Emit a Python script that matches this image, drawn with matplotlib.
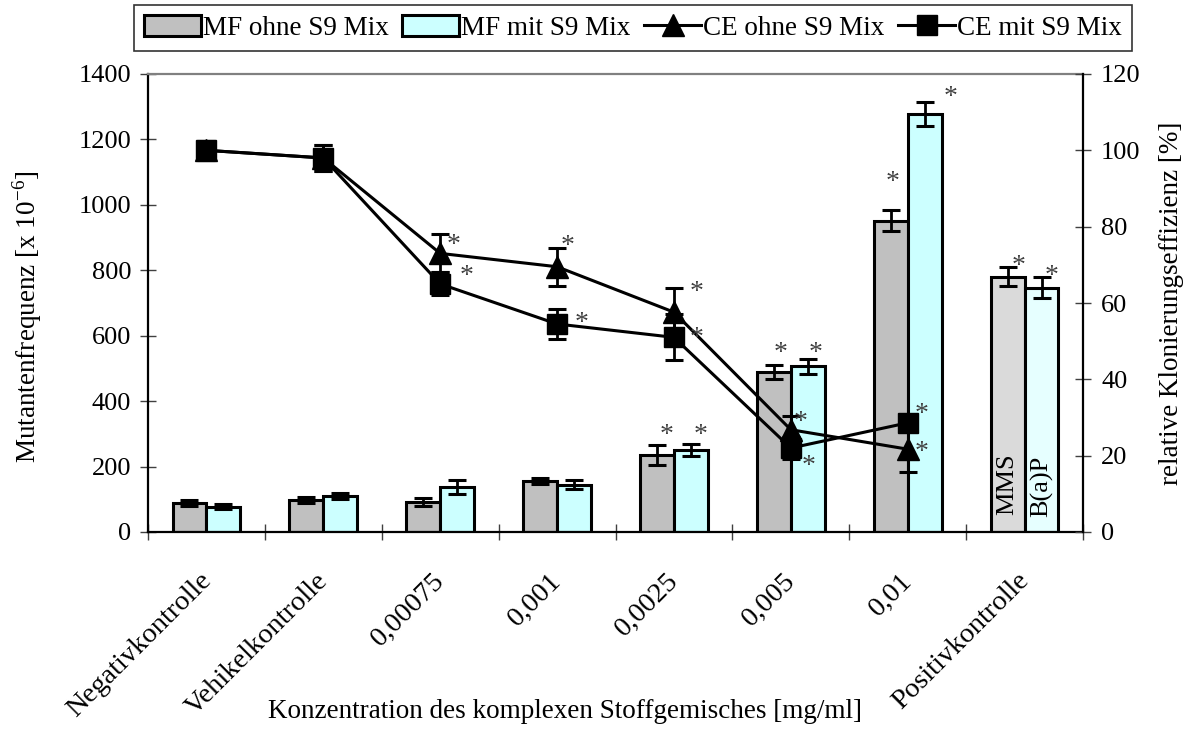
import matplotlib
matplotlib.use("Agg")
import matplotlib.pyplot as plt
from matplotlib.lines import Line2D
from matplotlib.patches import Patch
from matplotlib.transforms import ScaledTranslation

plt.rcParams['font.family'] = ['Liberation Serif', 'DejaVu Serif']

# ---- data ----
categories = ["Negativkontrolle", "Vehikelkontrolle", "0,00075", "0,001",
              "0,0025", "0,005", "0,01", "Positivkontrolle"]
mf_ohne = [88, 98, 91, 156, 236, 488, 951, 781]
mf_ohne_err = [10, 8, 13, 10, 31, 21, 32, 30]
mf_mit = [77, 111, 137, 145, 251, 506, 1278, 747]
mf_mit_err = [8, 9, 21, 15, 19, 22, 37, 31]

ce_ohne = [100, 98, 73, 69.5, 57.6, 26.8, 21.7]
ce_ohne_err = [2.5, 3.5, 5, 5, 6.2, 3.7, 6]
ce_mit = [100, 98, 65, 54.5, 51, 22, 28.6]
ce_mit_err = [2.5, 3.5, 3, 4, 6, 3, 2]

pos_labels = ["MMS", "B(a)P"]

# significance marks: (index, dx px, dy px) relative to the mark
sig_mf_ohne = [(4, 10, 15), (5, 7, 17), (6, 2, 33), (7, 11, 6)]
sig_mf_mit = [(4, 10, 14), (5, 8, 11), (6, 26, 10), (7, 10, 6)]
sig_ce_ohne = [(2, 13, 13), (3, 11, 26), (4, 23, 25), (5, 10, 13), (6, 14, 2)]
sig_ce_mit = [(2, 26, 13), (3, 25, 6), (4, 23, 4), (5, 18, -13), (6, 14, 14)]

FS_TICK = 19
FS_XTICK = 20.5
FS_LAB = 19.5
gray = "#c0c0c0"
cyan = "#ccffff"

fig = plt.figure(figsize=(11.92, 7.33), dpi=100)
ax = fig.add_axes([148 / 1192, 1 - 532 / 733, (1083 - 148) / 1192, (532 - 74) / 733])

w = 0.29
n = len(categories)
x = list(range(n))
gray_cols = [gray] * (n - 1) + ["#dadada"]
cyan_cols = [cyan] * (n - 1) + ["#e6ffff"]

ax.bar([i - w / 2 for i in x], mf_ohne, width=w, color=gray_cols,
       edgecolor="black", linewidth=2.2, zorder=2)
ax.bar([i + w / 2 for i in x], mf_mit, width=w, color=cyan_cols,
       edgecolor="black", linewidth=2.2, zorder=2)
ax.errorbar([i - w / 2 for i in x], mf_ohne, yerr=mf_ohne_err, fmt="none",
            ecolor="black", elinewidth=2, capsize=6.5, capthick=2.2, zorder=3)
ax.errorbar([i + w / 2 for i in x], mf_mit, yerr=mf_mit_err, fmt="none",
            ecolor="black", elinewidth=2, capsize=6.5, capthick=2.2, zorder=3)

ax.set_xlim(-0.5, n - 0.5)
ax.set_ylim(0, 1400)
ax.set_yticks(range(0, 1401, 200))
ax.set_xticks(x)
ax.set_xticks([i + 0.5 for i in range(-1, n)], minor=True)
ax.tick_params(axis="x", which="major", length=0, pad=26)
ax.tick_params(axis="x", which="minor", direction="inout", length=12,
               width=1.0, color="#404040")
ax.tick_params(axis="y", direction="inout", length=12, width=1.0,
               labelsize=FS_TICK, pad=6, color="#404040")
ax.set_xticklabels(categories, rotation=45, ha="right", va="top",
                   rotation_mode="anchor", fontsize=FS_XTICK)
shift = ScaledTranslation(-8 / 100, 0, fig.dpi_scale_trans)
for lbl in ax.get_xticklabels():
    lbl.set_transform(lbl.get_transform() + shift)

for s in ["left", "bottom"]:
    ax.spines[s].set_linewidth(1.6)
    ax.spines[s].set_color("black")
ax.spines["top"].set_color("#808080")
ax.spines["top"].set_linewidth(1.6)
ax.spines["right"].set_visible(False)

ax.set_ylabel("Mutantenfrequenz [x 10$^{\\mathregular{-6}}$]", fontsize=FS_LAB,
              va="center", ha="center")
ax.yaxis.set_label_coords((27 - 148) / 935, (532 - 317) / 458)
ax.set_xlabel("Konzentration des komplexen Stoffgemisches [mg/ml]", fontsize=FS_LAB,
              va="center", ha="center")
ax.xaxis.set_label_coords((565 - 148) / 935, (532 - 712) / 458)

# labels inside the positive control bars
ax.annotate(pos_labels[0], xy=(n - 1 - w / 2, 0), xytext=(0, 17),
            textcoords="offset pixels", rotation=90, ha="center", va="bottom",
            fontsize=19)
ax.annotate(pos_labels[1], xy=(n - 1 + w / 2, 0), xytext=(0, 15),
            textcoords="offset pixels", rotation=90, ha="center", va="bottom",
            fontsize=19)

# ---- clone efficiency on secondary axis ----
ax2 = ax.twinx()
ax2.set_ylim(0, 120)
ax2.set_yticks(range(0, 121, 20))
ax2.tick_params(axis="y", direction="inout", length=12, width=1.0,
                labelsize=FS_TICK, pad=7, color="#404040")
for s in ["left", "top", "bottom"]:
    ax2.spines[s].set_visible(False)
ax2.spines["right"].set_linewidth(1.6)
ax2.set_ylabel("relative Klonierungseffizienz [%]", fontsize=FS_LAB, rotation=90,
               va="center", ha="center")
ax2.yaxis.set_label_coords((1172 - 148) / 935, (532 - 303) / 458)

xl = x[:len(ce_ohne)]
ax2.errorbar(xl, ce_ohne, yerr=ce_ohne_err, fmt="none", ecolor="black",
             elinewidth=2, capsize=6.5, capthick=2.2, zorder=3)
ax2.errorbar(xl, ce_mit, yerr=ce_mit_err, fmt="none", ecolor="black",
             elinewidth=2, capsize=6.5, capthick=2.2, zorder=3)
ax2.plot(xl, ce_ohne, color="black", linewidth=2.2, marker="^",
         markersize=16, zorder=4)
ax2.plot(xl, ce_mit, color="black", linewidth=2.2, marker="s",
         markersize=15, zorder=4)


def star(axis, xv, yv, dx, dy):
    axis.annotate("*", xy=(xv, yv), xytext=(dx, dy - 12),
                  textcoords="offset pixels", ha="center", va="baseline",
                  fontsize=20, color="#404040", zorder=6)


for i, dx, dy in sig_mf_ohne:
    star(ax, i - w / 2, mf_ohne[i] + mf_ohne_err[i], dx, dy)
for i, dx, dy in sig_mf_mit:
    star(ax, i + w / 2, mf_mit[i] + mf_mit_err[i], dx, dy)
for i, dx, dy in sig_ce_ohne:
    star(ax2, i, ce_ohne[i], dx, dy)
for i, dx, dy in sig_ce_mit:
    star(ax2, i, ce_mit[i], dx, dy)

# ---- legend ----
handles = [
    Patch(facecolor=gray, edgecolor="black", linewidth=2.2),
    Patch(facecolor=cyan, edgecolor="black", linewidth=2.2),
    Line2D([], [], color="black", linewidth=2.2, marker="^", markersize=16),
    Line2D([], [], color="black", linewidth=2.2, marker="s", markersize=15),
]
labels = ["MF ohne S9 Mix", "MF mit S9 Mix", "CE ohne S9 Mix", "CE mit S9 Mix"]
leg = fig.legend(handles, labels, loc="center", bbox_to_anchor=(633 / 1192, 1 - 28 / 733),
                 ncol=4, fontsize=FS_LAB, frameon=True, fancybox=False,
                 handlelength=2.1, handleheight=0.8, handletextpad=0.08,
                 columnspacing=0.5, borderpad=0.38, borderaxespad=0)
leg.get_frame().set_edgecolor("black")
leg.get_frame().set_linewidth(1.2)

fig.savefig("out.png", dpi=100)
